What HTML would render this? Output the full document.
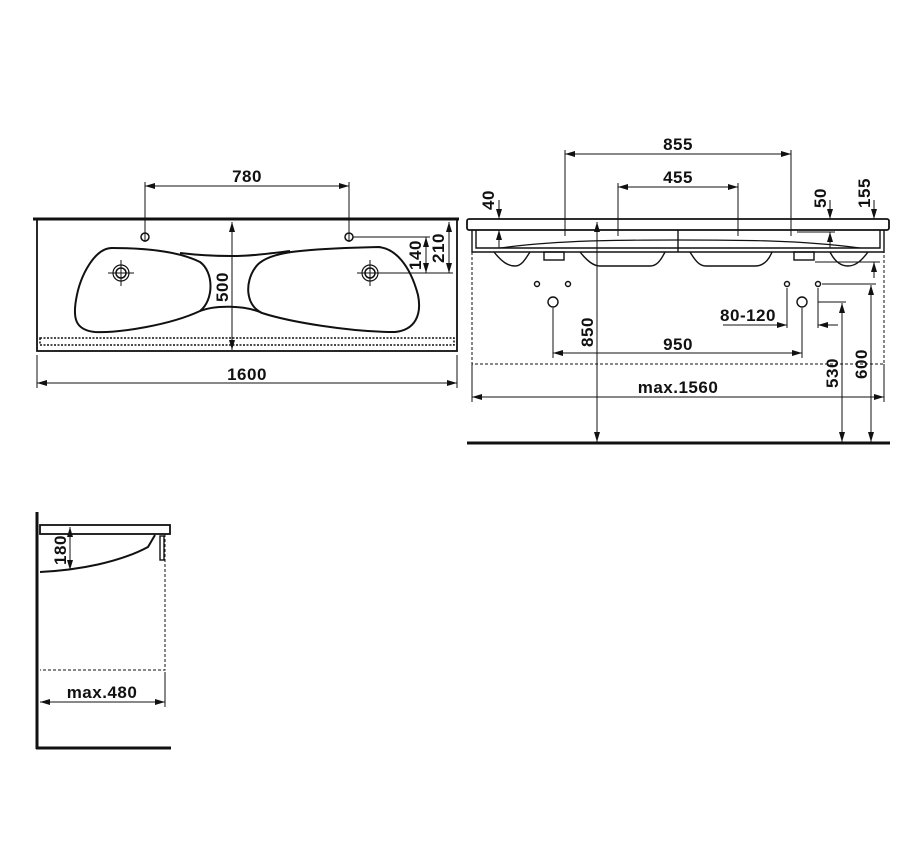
<!DOCTYPE html>
<html><head><meta charset="utf-8"><style>
html,body{margin:0;padding:0;background:#fff;}
svg{display:block;}
text{font-family:"Liberation Sans",sans-serif;font-weight:bold;font-size:17px;fill:#111;letter-spacing:0.5px;}
</style></head><body>
<svg width="910" height="867" viewBox="0 0 910 867" xmlns="http://www.w3.org/2000/svg">
<defs>
<marker id="a" viewBox="0 0 10 6" refX="10" refY="3" markerWidth="10" markerHeight="6" orient="auto-start-reverse" markerUnits="userSpaceOnUse"><path d="M0,0 L10,3 L0,6 z" fill="#111"/></marker>
</defs>
<g stroke="#111" fill="none">
<!-- TOP VIEW -->
<line x1="33" y1="219" x2="459" y2="219" stroke-width="3"/>
<rect x="37" y="219" width="420" height="132" stroke-width="1.8"/>
<rect x="40" y="338" width="414" height="7" stroke-width="1.5" stroke-dasharray="2,1.5"/>
<path d="M112,248 C150,248 180,252 200,262 C214,272 214,300 200,311 C170,325 120,333 95,332 C75,330 73,318 76,300 C80,275 95,248 112,248 Z" stroke-width="2"/>
<path d="M255,268 C265,252 300,250 345,248 L378,247 C395,248 410,265 418,295 C422,315 415,330 395,332 C350,332 290,322 262,313 C245,305 245,282 255,268 Z" stroke-width="2"/>
<path d="M180,253 C205,256 220,256 232,256 C250,256 265,254 290,251" stroke-width="2"/>
<path d="M200,311 C215,305 245,305 262,313" stroke-width="2"/>
<circle cx="145" cy="237" r="4" stroke-width="1.5"/>
<circle cx="349" cy="237" r="4" stroke-width="1.5"/>
<circle cx="121" cy="273" r="8" stroke-width="1.2"/><circle cx="121" cy="273" r="5" stroke-width="1.5"/>
<circle cx="370" cy="273" r="8" stroke-width="1.2"/><circle cx="370" cy="273" r="5" stroke-width="1.5"/>
<g stroke-width="1">
<line x1="108" y1="273" x2="134" y2="273"/><line x1="121" y1="260" x2="121" y2="286"/>
<line x1="357" y1="273" x2="453" y2="273"/><line x1="370" y1="260" x2="370" y2="286"/>
<line x1="353" y1="237" x2="430" y2="237"/>
<line x1="145" y1="182" x2="145" y2="242"/><line x1="349" y1="182" x2="349" y2="242"/>
<line x1="145" y1="186" x2="349" y2="186" marker-start="url(#a)" marker-end="url(#a)"/>
<line x1="232" y1="222" x2="232" y2="350" marker-start="url(#a)" marker-end="url(#a)"/>
<line x1="426" y1="237" x2="426" y2="273" marker-start="url(#a)" marker-end="url(#a)"/>
<line x1="449" y1="222" x2="449" y2="273" marker-start="url(#a)" marker-end="url(#a)"/>
<line x1="37" y1="355" x2="37" y2="388"/><line x1="457" y1="355" x2="457" y2="388"/>
<line x1="37" y1="383" x2="457" y2="383" marker-start="url(#a)" marker-end="url(#a)"/>
</g>
<!-- FRONT VIEW -->
<rect x="467" y="219" width="422" height="11" rx="2" stroke-width="1.8"/>
<path d="M472,230 V252 H884 V230 M476,230 V248 H880 V230" stroke-width="1.4"/>
<line x1="678" y1="230" x2="678" y2="252" stroke-width="1.4"/>
<path d="M494,252 C502,262 508,266 515,266 C522,266 526,258 530,252" stroke-width="1.4"/>
<path d="M580,252 C588,262 594,266 600,266 H650 C656,266 660,262 665,252" stroke-width="1.4"/>
<path d="M690,252 C696,262 700,266 706,266 H755 C762,266 768,262 772,252" stroke-width="1.4"/>
<path d="M830,252 C834,260 840,266 848,266 C856,266 862,260 868,252" stroke-width="1.4"/>
<rect x="544" y="252" width="20" height="8" stroke-width="1.4"/>
<rect x="794" y="252" width="20" height="8" stroke-width="1.4"/>
<path d="M500,248 C560,240 620,240 678,240 C740,240 800,240 860,248" stroke-width="1.2"/>
<path d="M472,252 V364 H884 V252" stroke-width="1" stroke-dasharray="3,2"/>
<g stroke-width="1.4">
<circle cx="537" cy="284" r="2.5"/><circle cx="568" cy="284" r="2.5"/>
<circle cx="787" cy="284" r="2.5"/><circle cx="818" cy="284" r="2.5"/>
<circle cx="553" cy="302" r="5"/><circle cx="802" cy="302" r="5"/>
</g>
<line x1="467" y1="443" x2="890" y2="443" stroke-width="3"/>
<g stroke-width="1">
<line x1="565" y1="150" x2="565" y2="236"/><line x1="791" y1="150" x2="791" y2="236"/>
<line x1="565" y1="154" x2="791" y2="154" marker-start="url(#a)" marker-end="url(#a)"/>
<line x1="618" y1="183" x2="618" y2="236"/><line x1="738" y1="183" x2="738" y2="236"/>
<line x1="618" y1="187" x2="738" y2="187" marker-start="url(#a)" marker-end="url(#a)"/>
<line x1="499" y1="200" x2="499" y2="219" marker-end="url(#a)"/><line x1="499" y1="248" x2="499" y2="230" marker-end="url(#a)"/>
<line x1="830" y1="200" x2="830" y2="219" marker-end="url(#a)"/><line x1="830" y1="248" x2="830" y2="232" marker-end="url(#a)"/>
<line x1="797" y1="232" x2="835" y2="232"/>
<line x1="874" y1="200" x2="874" y2="219" marker-end="url(#a)"/><line x1="874" y1="278" x2="874" y2="262" marker-end="url(#a)"/>
<line x1="815" y1="262" x2="880" y2="262"/>
<line x1="597" y1="222" x2="597" y2="442" marker-start="url(#a)" marker-end="url(#a)"/>
<line x1="553" y1="308" x2="553" y2="358"/><line x1="802" y1="308" x2="802" y2="358"/>
<line x1="553" y1="353" x2="802" y2="353" marker-start="url(#a)" marker-end="url(#a)"/>
<line x1="787" y1="288" x2="787" y2="328"/><line x1="818" y1="288" x2="818" y2="328"/>
<line x1="723" y1="325" x2="787" y2="325" marker-end="url(#a)"/><line x1="838" y1="325" x2="818" y2="325" marker-end="url(#a)"/>
<line x1="822" y1="284" x2="876" y2="284"/><line x1="818" y1="302" x2="846" y2="302"/>
<line x1="842" y1="303" x2="842" y2="442" marker-start="url(#a)" marker-end="url(#a)"/>
<line x1="871" y1="285" x2="871" y2="442" marker-start="url(#a)" marker-end="url(#a)"/>
<line x1="472" y1="364" x2="472" y2="402"/><line x1="884" y1="364" x2="884" y2="402"/>
<line x1="472" y1="397" x2="884" y2="397" marker-start="url(#a)" marker-end="url(#a)"/>
</g>
<!-- SIDE VIEW -->
<line x1="37" y1="512" x2="37" y2="749" stroke-width="3"/>
<line x1="36" y1="748" x2="171" y2="748" stroke-width="3"/>
<rect x="40" y="525" width="130" height="9" stroke-width="1.8"/>
<path d="M40,572 C80,570 120,562 148,547 L155,535" stroke-width="2"/>
<rect x="160" y="536" width="4" height="24" stroke-width="1.4"/>
<path d="M165,534 V670 H40" stroke-width="1" stroke-dasharray="3,2"/>
<g stroke-width="1">
<line x1="70" y1="527" x2="70" y2="570" marker-start="url(#a)" marker-end="url(#a)"/>
<line x1="40" y1="702" x2="165" y2="702" marker-start="url(#a)" marker-end="url(#a)"/>
<line x1="165" y1="672" x2="165" y2="707"/>
</g>
</g>
<text x="247" y="182" text-anchor="middle">780</text>
<text x="247" y="380" text-anchor="middle">1600</text>
<text transform="translate(228,287) rotate(-90)" text-anchor="middle">500</text>
<text transform="translate(421,255) rotate(-90)" text-anchor="middle">140</text>
<text transform="translate(444,248) rotate(-90)" text-anchor="middle">210</text>
<text x="678" y="150" text-anchor="middle">855</text>
<text x="678" y="183" text-anchor="middle">455</text>
<text transform="translate(494,200) rotate(-90)" text-anchor="middle">40</text>
<text transform="translate(826,198) rotate(-90)" text-anchor="middle">50</text>
<text transform="translate(870,193) rotate(-90)" text-anchor="middle">155</text>
<text x="748" y="321" text-anchor="middle">80-120</text>
<text x="678" y="350" text-anchor="middle">950</text>
<text transform="translate(593,332) rotate(-90)" text-anchor="middle">850</text>
<text x="678" y="393" text-anchor="middle">max.1560</text>
<text transform="translate(838,373) rotate(-90)" text-anchor="middle">530</text>
<text transform="translate(867,364) rotate(-90)" text-anchor="middle">600</text>
<text transform="translate(66,550) rotate(-90)" text-anchor="middle">180</text>
<text x="102" y="698" text-anchor="middle">max.480</text>
</svg>
</body></html>
